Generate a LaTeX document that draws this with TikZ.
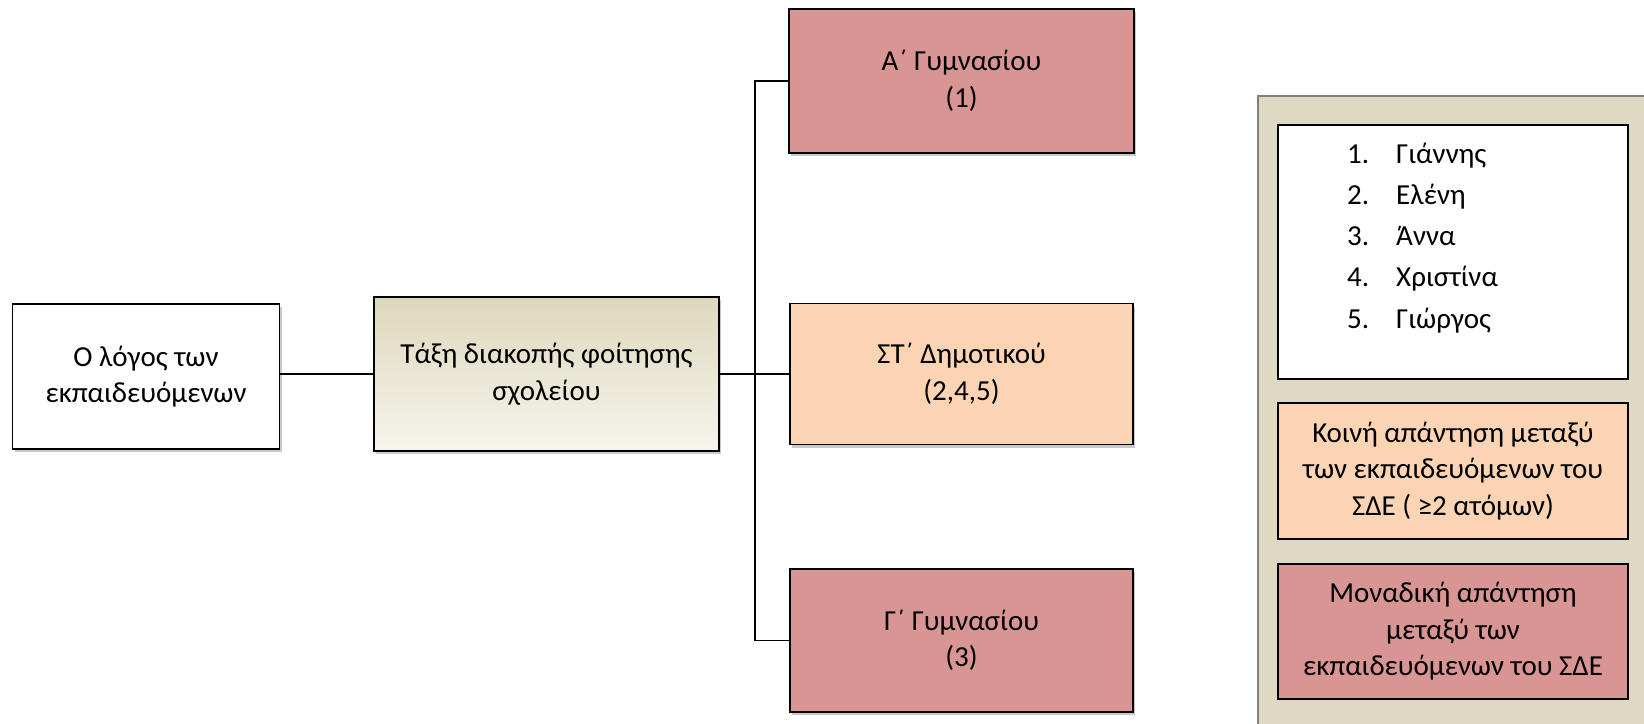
\documentclass[tikz,border=0pt]{standalone}
\usepackage{fontspec}
\setmainfont{Carlito}
\usetikzlibrary{shadows}
\definecolor{rosebox}{RGB}{217,149,148}
\definecolor{peachbox}{RGB}{251,212,180}
\definecolor{legendbg}{RGB}{221,217,195}
\definecolor{legendedge}{RGB}{128,128,128}
\definecolor{tantop}{RGB}{221,216,188}
\definecolor{tanbot}{RGB}{246,244,236}
\tikzset{
  box/.style={draw=black, line width=1.4pt, inner sep=0pt, align=center,
    font=\fontsize{29}{36.5}\selectfont,
    drop shadow={shadow xshift=2pt, shadow yshift=-3pt, opacity=0.35, fill=black!60}},
  keybox/.style={draw=black, line width=1.2pt, inner sep=0pt, align=center,
    minimum width=350pt, font=\fontsize{29}{36.5}\selectfont},
  link/.style={draw=black, line width=1.4pt},
  listtxt/.style={inner sep=0pt, font=\fontsize{29}{30}\selectfont}
}
\begin{document}
\begin{tikzpicture}[x=1pt,y=-1pt]
  \useasboundingbox (0,0) rectangle (1644,723);
  \fill[white] (0,0) rectangle (1644,723);

  % main chain
  \node[box, fill=white, minimum width=267pt, minimum height=145pt] (reason) at (146,376.5)
    {Ο λόγος των\\εκπαιδευόμενων};
  \node[box, top color=tantop, bottom color=tanbot, minimum width=345pt, minimum height=154pt] (grade) at (546.5,374)
    {Τάξη διακοπής φοίτησης\\σχολείου};
  \node[box, fill=rosebox, minimum width=345pt, minimum height=144pt] (gymA) at (961.5,81)
    {Α΄ Γυμνασίου\\(1)};
  \node[box, fill=peachbox, minimum width=343pt, minimum height=141pt] (dimST) at (961.5,374)
    {ΣΤ΄ Δημοτικού\\(2,4,5)};
  \node[box, fill=rosebox, minimum width=343pt, minimum height=143pt] (gymG) at (961.5,640.5)
    {Γ΄ Γυμνασίου\\(3)};

  % connectors
  \coordinate (fork) at (755,374);
  \draw[link] (grade.west -| reason.east) -- (grade.west);
  \draw[link] (grade.east) -- (fork) -- (dimST.west);
  \draw[link] (fork) |- (gymA.west);
  \draw[link] (fork) |- (gymG.west);

  % legend panel
  \begin{scope}
    \clip (0,0) rectangle (1644,723);
    \draw[fill=legendbg, draw=legendedge, line width=1.6pt] (1258,96) rectangle (1660,740);
  \end{scope}
  \node[keybox, fill=white, minimum height=254pt] (names) at (1453,252) {};
  \node[keybox, fill=peachbox, minimum height=136pt] (common) at (1453,471)
    {Κοινή απάντηση μεταξύ\\των εκπαιδευόμενων του\\ΣΔΕ ( ≥2 ατόμων)};
  \node[keybox, fill=rosebox, minimum height=135pt] (unique) at (1453,631.5)
    {Μοναδική απάντηση\\μεταξύ των\\εκπαιδευόμενων του ΣΔΕ};

  % list of learners
  \foreach \k/\nm [count=\i] in {1/Γιάννης, 2/Ελένη, 3/Άννα, 4/Χριστίνα, 5/Γιώργος}{
    \node[listtxt, anchor=base west] (num\i) at (1347,{163+41.25*(\i-1)}) {\k.};
    \node[listtxt, anchor=base west] (nm\i) at (1396,{163+41.25*(\i-1)}) {\nm};
  }
\end{tikzpicture}
\end{document}
